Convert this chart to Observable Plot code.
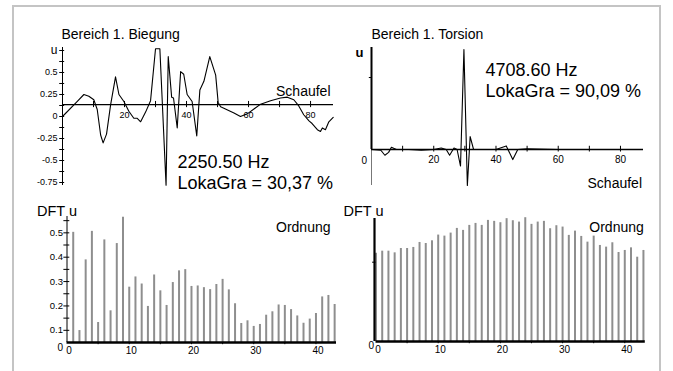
<!DOCTYPE html>
<html><head><meta charset="utf-8">
<script src="https://cdn.jsdelivr.net/npm/d3@7"></script>
<script src="https://cdn.jsdelivr.net/npm/@observablehq/plot@0.6"></script>
<style>
body{margin:0;background:#fff;}
#wrap{position:relative;width:673px;height:371px;overflow:hidden;font-family:"Liberation Sans",Arial,sans-serif;}
#frame{position:absolute;left:12px;top:5px;width:645px;height:380px;border:2px solid #c4c4c4;border-bottom:none;}
.panel{position:absolute;}
</style></head><body><div id="wrap"><div id="frame"></div></div>
<script>
// ---------- data ----------
// Top-left: Bereich 1. Biegung (Schaufel vs u)
const tlX = [0, 4.7, 6.9, 8.5, 10.1, 11.2, 12.3, 13.1, 14.2, 15.5, 17.1, 18.2, 19.8, 21.4, 23, 24.1, 25.2, 26.8, 28.4, 30, 31.4, 33.4, 34.1, 35.2, 35.8, 37, 38.1, 39.1, 40.2, 41.8, 43.3, 44.3, 45.6, 47.5, 49.4, 50.2, 51, 55.3, 57.4, 59.6, 63.9, 67.1, 70.3, 72.5, 74.6, 76.2, 77.8, 79.5, 80.5, 82.2, 83.2, 83.8, 84.8, 85.9, 87.3];
const tlU = [0, 0.17, 0.25, 0.23, 0.19, 0.08, -0.21, -0.3, -0.2, 0.13, 0.45, 0.25, 0.17, 0.06, -0.02, -0.02, -0.06, 0.05, 0.18, 0.77, 0.77, -0.78, 0.68, 0.22, 0.21, -0.13, 0.51, 0.48, 0.25, 0.17, -0.22, 0.3, 0.4, 0.68, 0.47, 0.16, 0.11, 0.04, 0, 0.03, 0.14, 0.18, 0.21, 0.22, 0.19, 0.12, 0.02, -0.05, -0.08, -0.15, -0.17, -0.13, -0.15, -0.06, -0.01];
const tlAxisLevel = 0.136;
const tlYTicks = [0.75, 0.625, 0.5, 0.375, 0.25, 0.125, 0, -0.125, -0.25, -0.375, -0.5, -0.625, -0.75];
const tlYLabelVals = [0.75, 0.5, 0.25, 0, -0.25, -0.5, -0.75];
const tlYLabelText = ["u", "0.5", "0.25", "0", "-0.25", "-0.5", "-0.75"];
const tlXTicks = [10, 20, 30, 40, 50, 60, 70, 80];
const tlXLabels = [20, 40, 60, 80];

// Top-right: Bereich 1. Torsion
const trX = [0, 3, 4.3, 5.5, 6.4, 8, 12, 16, 20, 22.4, 24, 25.1, 26.5, 27.5, 28.6, 29.7, 30.8, 31.7, 32.8, 40, 43.3, 45.4, 47, 50, 60, 87];
const trU = [0, -0.01, -0.08, -0.04, 0.03, 0, 0, -0.01, 0, 0.02, 0, -0.08, 0.02, 0, -0.23, 1.39, -0.5, 0.18, 0, 0, 0.05, -0.14, 0, 0.01, 0, 0];
const trXTicks = [10, 20, 30, 40, 50, 60, 70, 80];
const trXLabels = [20, 40, 60, 80];
const trYTicks = [1];

// Bottom-left: DFT u, Ordnung 1..43
const blValues = [0.502, 0.099, 0.389, 0.506, 0.132, 0.471, 0.180, 0.456, 0.564, 0.277, 0.319, 0.290, 0.198, 0.327, 0.262, 0.202, 0.296, 0.344, 0.349, 0.280, 0.282, 0.275, 0.267, 0.288, 0.309, 0.266, 0.209, 0.128, 0.139, 0.116, 0.124, 0.162, 0.176, 0.204, 0.202, 0.185, 0.159, 0.129, 0.146, 0.169, 0.237, 0.243, 0.206];
const blBase = 0.05;
const blYTicks = [0.1, 0.15, 0.2, 0.25, 0.3, 0.35, 0.4, 0.45, 0.5, 0.55];
const blYLabels = [0.1, 0.2, 0.3, 0.4, 0.5];

// Bottom-right: DFT u, Ordnung 0..43
const brValues = [1.114, 1.139, 1.139, 1.118, 1.173, 1.173, 1.186, 1.249, 1.236, 1.270, 1.342, 1.329, 1.367, 1.426, 1.401, 1.464, 1.489, 1.464, 1.527, 1.515, 1.498, 1.549, 1.523, 1.506, 1.561, 1.477, 1.506, 1.515, 1.422, 1.460, 1.443, 1.338, 1.392, 1.325, 1.253, 1.329, 1.211, 1.190, 1.245, 1.122, 1.148, 1.181, 1.063, 1.148];
const brYTicks = [1];

const xOrderTicks = [5, 10, 15, 20, 25, 30, 35, 40];
const xOrderLabels = [0, 10, 20, 30, 40];

// ---------- helpers ----------
const FONT = "Liberation Sans, Arial, Helvetica, sans-serif";
const barGray = "#8e8e8e";
const common = {fontFamily: FONT, background: "transparent", overflow: "visible"};
const annot = (str, opts) => Plot.text([str], {text: d => d, fill: "black", lineAnchor: "bottom", ...opts});
const wrap = document.getElementById("wrap");
function place(svg, left, top) {
  svg.style.left = left + "px";
  svg.style.top = top + "px";
  svg.style.position = "absolute";
  wrap.appendChild(svg);
}

const tlData = tlX.map((x, i) => ({x, u: tlU[i]}));
const trData = trX.map((x, i) => ({x, u: trU[i]}));
const blData = blValues.map((v, i) => ({k: i + 1, v}));
const brData = brValues.map((v, i) => ({k: i, v}));
const tlLabels = tlYLabelVals.map((v, i) => ({v, t: tlYLabelText[i]}));

// ---------- top-left ----------
const tl = Plot.plot({
  width: 326, height: 200, marginLeft: 48, marginRight: 7, marginTop: 47, marginBottom: 15,
  x: {domain: [0, 87.4], axis: null},
  y: {domain: [-0.784, 0.784], axis: null},
  style: common,
  marks: [
    Plot.ruleX([0], {stroke: "black", strokeWidth: 1}),
    Plot.ruleY(tlYTicks, {y: d => d, x1: -0.9, x2: 0.7, stroke: "black"}),
    Plot.text(tlLabels, {y: "v", text: "t", frameAnchor: "left", textAnchor: "end", dx: -5, fontSize: d => d.t === "u" ? 12 : 9, fill: "black"}),
    Plot.ruleY([tlAxisLevel], {stroke: "black", strokeWidth: 1.2}),
    Plot.ruleX(tlXTicks, {x: d => d, y1: tlAxisLevel - 0.035, y2: tlAxisLevel + 0.035, stroke: "black"}),
    Plot.text(tlXLabels, {x: d => d, y: tlAxisLevel, dy: 11, text: d => String(d), fontSize: 9, fill: "black"}),
    Plot.line(tlData, {x: "x", y: "u", stroke: "black", strokeWidth: 1.1}),
    annot("Bereich 1. Biegung", {frameAnchor: "top-left", textAnchor: "start", dx: -1, dy: -8.5, fontSize: 14}),
    annot("Schaufel", {frameAnchor: "top-right", textAnchor: "end", dx: -3, dy: 48, fontSize: 14}),
    annot("2250.50 Hz", {frameAnchor: "top-left", textAnchor: "start", dx: 115, dy: 120, fontSize: 18}),
    annot("LokaGra = 30,37 %", {frameAnchor: "top-left", textAnchor: "start", dx: 115, dy: 141.5, fontSize: 18})
  ]
});
place(tl, 14, 0);

// ---------- top-right ----------
const tr = Plot.plot({
  width: 320, height: 200, marginLeft: 31, marginRight: 17, marginTop: 47, marginBottom: 15,
  x: {domain: [0, 87.4], axis: null},
  y: {domain: [-0.5, 1.417], axis: null},
  style: common,
  marks: [
    Plot.ruleX([0], {y1: -0.5, y2: 0, stroke: "#777", strokeWidth: 1}),
    Plot.ruleX([0], {y1: 0, y2: 1.417, stroke: "black", strokeWidth: 2}),
    Plot.ruleY(trYTicks, {y: d => d, x1: -0.7, x2: 0, stroke: "black"}),
    Plot.ruleY([0], {stroke: "black", strokeWidth: 1.3}),
    Plot.ruleX(trXTicks, {x: d => d, y1: -0.035, y2: 0.045, stroke: "black"}),
    Plot.text(trXLabels, {x: d => d, y: 0, dy: 10, text: d => String(d), fontSize: 10, fill: "black"}),
    Plot.text(["0"], {text: d => d, y: 0, frameAnchor: "left", dx: -10, dy: 11, fontSize: 10, fill: "black"}),
    Plot.line(trData, {x: "x", y: "u", stroke: "black", strokeWidth: 1.1}),
    annot("Bereich 1. Torsion", {frameAnchor: "top-left", textAnchor: "start", dx: 0, dy: -8.5, fontSize: 14}),
    annot("u", {frameAnchor: "top-left", textAnchor: "end", dx: -8, dy: 9.5, fontSize: 13, fontWeight: "bold"}),
    annot("4708.60 Hz", {frameAnchor: "top-left", textAnchor: "start", dx: 114, dy: 28, fontSize: 18}),
    annot("LokaGra = 90,09 %", {frameAnchor: "top-left", textAnchor: "start", dx: 114, dy: 49.5, fontSize: 18}),
    annot("Schaufel", {frameAnchor: "bottom-right", textAnchor: "end", dx: -1.5, dy: 2, fontSize: 14})
  ]
});
place(tr, 340, 0);

// ---------- bottom-left ----------
const bl = Plot.plot({
  width: 326, height: 171, marginLeft: 52.5, marginRight: 4, marginTop: 16, marginBottom: 29,
  x: {domain: [0, 43.3], axis: null},
  y: {domain: [blBase, 0.567], axis: null},
  style: common,
  marks: [
    Plot.ruleX(blData, {x: "k", y1: blBase, y2: "v", stroke: barGray, strokeWidth: 2}),
    Plot.ruleX([0], {stroke: "black", strokeWidth: 1}),
    Plot.ruleY(blYTicks, {y: d => d, x1: -0.5, x2: 0.45, stroke: "black"}),
    Plot.text(blYLabels, {y: d => d, text: d => d.toFixed(1), frameAnchor: "left", textAnchor: "end", dx: -4, fontSize: 9.5, fill: "black"}),
    Plot.ruleY([blBase], {stroke: "black", strokeWidth: 2.5}),
    Plot.ruleX(xOrderTicks, {x: d => d, y1: blBase - 0.009, y2: blBase, stroke: "black"}),
    Plot.text(xOrderLabels, {x: d => d, text: d => String(d), frameAnchor: "bottom", lineAnchor: "top", dx: 2, dy: 4, fontSize: 10, fill: "black"}),
    Plot.text(["0"], {text: d => d, frameAnchor: "bottom-left", dx: -9.5, dy: 8.5, fontSize: 10, fill: "black"}),
    annot("DFT u", {frameAnchor: "top-left", textAnchor: "start", dx: -30, dy: -1, fontSize: 14.5}),
    annot("Ordnung", {frameAnchor: "top-right", textAnchor: "end", dx: -6, dy: 15, fontSize: 14})
  ]
});
place(bl, 14, 200);

// ---------- bottom-right ----------
const br = Plot.plot({
  width: 320, height: 171, marginLeft: 35.5, marginRight: 15.2, marginTop: 18, marginBottom: 30,
  x: {domain: [0, 43.3], axis: null},
  y: {domain: [0, 1.551], axis: null},
  style: common,
  marks: [
    Plot.ruleX(brData, {x: "k", y1: 0, y2: "v", stroke: barGray, strokeWidth: 2}),
    Plot.ruleX([0], {stroke: "black", strokeWidth: 2.2, dx: -1.5}),
    Plot.ruleY(brYTicks, {y: d => d, x1: -0.55, x2: 0, stroke: "black"}),
    Plot.ruleY([0], {stroke: "black", strokeWidth: 2.5}),
    Plot.ruleX(xOrderTicks, {x: d => d, y1: -0.028, y2: 0, stroke: "black"}),
    Plot.text(xOrderLabels, {x: d => d, text: d => String(d), frameAnchor: "bottom", lineAnchor: "top", dx: 2, dy: 4, fontSize: 10, fill: "black"}),
    Plot.text(["0"], {text: d => d, frameAnchor: "bottom-left", dx: -7.5, dy: 7, fontSize: 10, fill: "black"}),
    annot("DFT u", {frameAnchor: "top-left", textAnchor: "start", dx: -32.5, dy: -3, fontSize: 14.5}),
    annot("Ordnung", {frameAnchor: "top-right", textAnchor: "end", dx: -1.5, dy: 13, fontSize: 14})
  ]
});
place(br, 340, 200);
</script></body></html>
